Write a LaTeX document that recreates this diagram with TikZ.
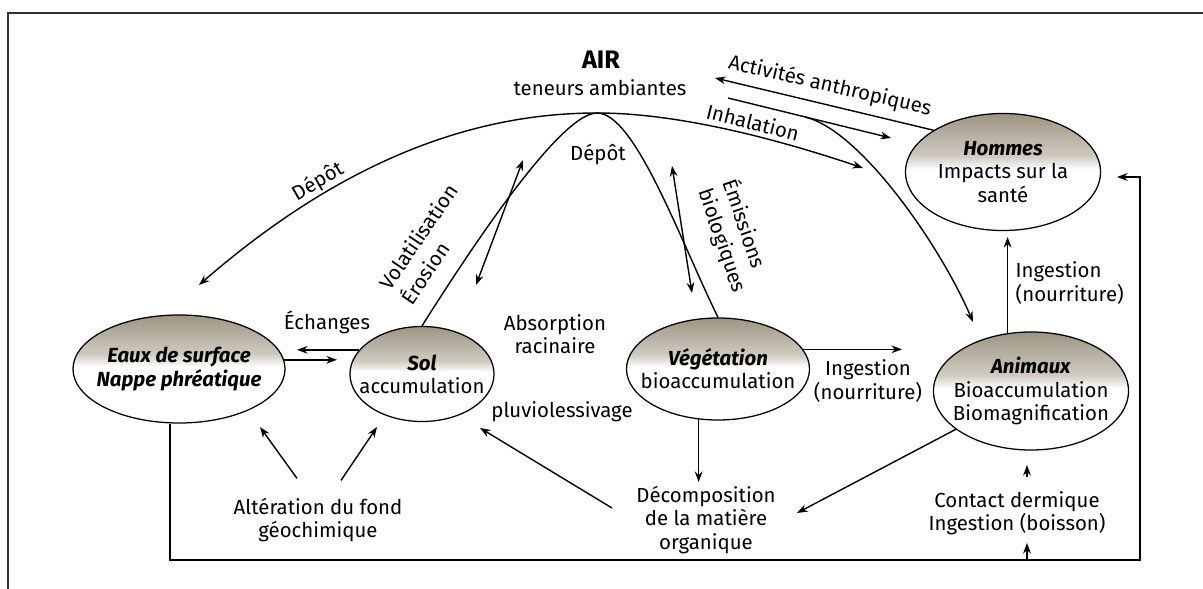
\documentclass[tikz,border=0pt]{standalone}
\usepackage{fontspec}
\setmainfont{Fira Sans}
\usetikzlibrary{shapes.geometric,arrows.meta}
\definecolor{taupe}{RGB}{158,148,130}
\pgfdeclareverticalshading{topgray}{100bp}{color(0bp)=(white); color(51bp)=(white); color(57bp)=(taupe!50); color(75bp)=(taupe); color(100bp)=(taupe)}
\tikzset{
    every node/.style={inner sep=1pt, align=center, font=\fontsize{14.5}{16.5}\selectfont}
}
\tikzset{
    comp/.style={ellipse, draw, line width=0.9pt, shading=topgray, inner xsep=-14pt, inner ysep=-6pt},
    arr/.style={line width=1pt, -{Stealth[length=7.5pt,width=5.5pt]}},
    darr/.style={line width=1pt, {Stealth[length=7.5pt,width=5.5pt]}-{Stealth[length=7.5pt,width=5.5pt]}}
}
\newcommand{\ttl}[1]{\textbf{\textit{#1}}}

\begin{document}
\begin{tikzpicture}[x=0.025cm, y=-0.025cm]
    \useasboundingbox (0,0) rectangle (1203,589);
    \draw[line width=1.3pt, black!80] (8,589) -- (8,13) -- (1203,13);

    \node (air) at (601,60) {\fontsize{18}{20}\selectfont\bfseries AIR};
    \node (ten) at (600,88) {teneurs ambiantes};

    \node (eaux) [comp, minimum width=5.3cm, minimum height=2.7cm] at (179,369) {\ttl{Eaux de surface}\\\ttl{Nappe phréatique}};
    \node (sol) [comp, minimum width=3.6cm, minimum height=2.375cm] at (422,374) {\ttl{Sol}\\accumulation};
    \node (veg) [comp, minimum width=4.575cm, minimum height=2.55cm] at (718,369) {\ttl{Végétation}\\bioaccumulation};
    \node (anim) [comp, minimum width=4.875cm, minimum height=2.95cm] at (1031,391) {\ttl{Animaux}\\Bioaccumulation\\Biomagnification};
    \node (hom) [comp, minimum width=4.875cm, minimum height=2.925cm] at (1003,172) {\ttl{Hommes}\\Impacts sur la\\santé};

    \node (ech) at (327,322) {Échanges};
    \node (absorp) at (555,334) {Absorption\\racinaire};
    \node (pluvio) at (562,412) {pluviolessivage};
    \node (ingveg) at (868,381) {Ingestion\\(nourriture)};
    \node (inghom) [align=left, anchor=west] at (1014,283) {Ingestion\\(nourriture)};
    \node (alter) at (318,520) {Altération du fond\\géochimique};
    \node (decomp) at (706,520) {Décomposition\\de la matière\\organique};
    \node (contact) at (1017,513) {Contact dermique\\Ingestion (boisson)};

    \node (dep1) [rotate=30] at (318,182) {Dépôt};
    \node (dep2) at (598,155) {Dépôt};
    \node (volat) [rotate=56, align=left] at (429,244) {Volatilisation\\[2pt]Érosion};
    \node (emis) [rotate=-71, align=left] at (735,236) {Émissions\\[2pt]biologiques};
    \node (activ) [rotate=-13] at (830,86) {Activités anthropiques};
    \node (inhal) [rotate=-14] at (753,122) {Inhalation};

    \coordinate (pk) at (597,113);
    \coordinate (teaux) at (199,285);
    \coordinate (tinh) at (863,168);
    \coordinate (tanim) at (973,322);
    \coordinate (ah1) at (728,98);
    \coordinate (ah2) at (891,138);
    \coordinate (br) at (805,117);
    \coordinate (tair) at (715,78);
    \coordinate (vo1) at (523,160);
    \coordinate (vo2) at (476,285);
    \coordinate (em1) at (672,166);
    \coordinate (em2) at (692,293);
    \coordinate (tech1) at (297,350);
    \coordinate (tech2) at (337,360);
    \coordinate (tingv) at (902,349);
    \coordinate (tdec) at (699,482);
    \coordinate (tadec) at (797,513);
    \coordinate (thom) at (1008,237);
    \coordinate (spl) at (612,508);
    \coordinate (tpl) at (480,428);
    \coordinate (tal1) at (260,427);
    \coordinate (tal2) at (377,427);
    \coordinate (lb) at (170,560);
    \coordinate (rb) at (1140,560);
    \coordinate (rt) at (1140,177);
    \coordinate (thr) at (1117,177);
    \coordinate (tc1) at (1027,543);
    \coordinate (sc2) at (1027,477);
    \coordinate (tc2) at (1027,465);

    \draw[arr] (pk) .. controls (450,113) and (320,180) .. (teaux);
    \draw[arr] (pk) .. controls (680,113) and (780,140) .. (tinh);
    \draw[line width=1pt] (sol.north) .. controls (470,250) and (560,113) .. (pk)
        .. controls (635,113) and (680,240) .. (veg.north);
    \draw (ah1) edge[arr] (ah2);
    \draw[arr] (br) .. controls (860,130) and (940,245) .. (tanim);
    \draw (hom.149) edge[arr] (tair);
    \draw (vo1) edge[darr] (vo2);
    \draw (em1) edge[darr] (em2);
    \draw (sol.159) edge[arr] (sol.159 -| tech1);
    \draw (eaux.5) edge[arr] (eaux.5 -| tech2);
    \draw (veg.13) edge[arr] (veg.13 -| tingv);
    \draw (veg.249) edge[arr] (veg.249 |- tdec);
    \draw (anim.207) edge[arr] (tadec);
    \draw (anim.112) edge[arr] (anim.112 |- thom);
    \draw (spl) edge[arr] (tpl);
    \draw ([shift={(-21,-18)}]alter.north) edge[arr] (tal1);
    \draw ([shift={(23,-16)}]alter.north) edge[arr] (tal2);
    \draw[arr] (eaux.south -| lb) -- (lb) -- (rb) -- (rt) -- (thr);
    \draw (tc1 |- rb) edge[arr] (tc1);
    \draw (sc2) edge[arr] (tc2);
\end{tikzpicture}
\end{document}
